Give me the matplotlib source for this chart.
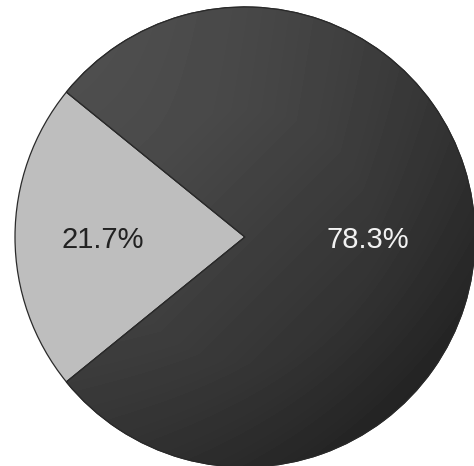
import numpy as np
import matplotlib.pyplot as plt
from matplotlib.colors import LinearSegmentedColormap

# slice shares (percent)
shares = [21.7, 78.3]
labels = ['21.7%', '78.3%']
slice_colors = ['#bebebe', '#3a3a3a']
text_colors = ['#222222', '#f2f2f2']

W, H = 474, 466
fig = plt.figure(figsize=(W / 100, H / 100), dpi=100)
ax = fig.add_axes([0, 0, 1, 1])

cx, cy, R = 245, 229, 230
start = 180 - shares[0] / 100 * 360 / 2

wedges, _ = ax.pie(shares, colors=slice_colors, startangle=start,
                   center=(cx, cy), radius=R, frame=True,
                   wedgeprops=dict(edgecolor='#2a2a2a', linewidth=0.9))
ax.set_xlim(0, W)
ax.set_ylim(0, H)
ax.set_aspect('equal')
ax.axis('off')

# shaded fill for the large slice: lighter upper-left, darker to the rim
yy, xx = np.mgrid[0:H, 0:W]
u = (xx - cx) / R
v = (yy - cy) / R
lin = (-u * 0.7 + v * 0.7)          # high toward upper-left
rad = np.sqrt(u ** 2 + v ** 2)
shade = 0.245 + 0.085 * lin - 0.05 * np.clip(rad - 0.55, 0, None)
shade = np.clip(shade, 0.13, 0.36)
gray = LinearSegmentedColormap.from_list('g', ['#000000', '#ffffff'])
img = ax.imshow(shade, cmap=gray, vmin=0, vmax=1, origin='lower',
                extent=(0, W, 0, H), zorder=wedges[1].get_zorder() + 0.1,
                interpolation='bilinear')
img.set_clip_path(wedges[1])
# redraw the outline over the shading
edge = plt.matplotlib.patches.Wedge((cx, cy), R, wedges[1].theta1, wedges[1].theta2,
                                    facecolor='none', edgecolor='#2a2a2a',
                                    linewidth=0.9, zorder=img.get_zorder() + 0.1)
ax.add_patch(edge)

# percentage labels along each slice's middle angle
dists = [0.62, 0.535]
for w, lab, d, tc in zip(wedges, labels, dists, text_colors):
    mid = np.deg2rad((w.theta1 + w.theta2) / 2)
    ax.text(cx + d * R * np.cos(mid), cy + d * R * np.sin(mid) - 3, lab,
            ha='center', va='center', fontsize=21, color=tc,
            family='Liberation Sans', zorder=10)

fig.savefig('out.png', dpi=100, facecolor='white')
